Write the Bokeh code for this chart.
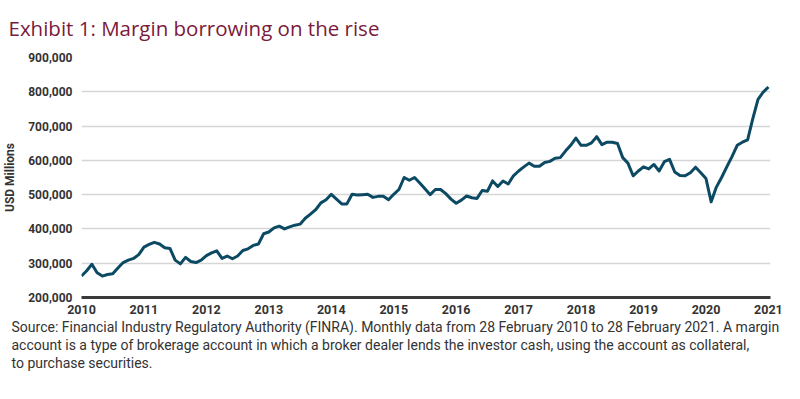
from bokeh.plotting import figure
from bokeh.models import (Range1d, FixedTicker, Title, ColumnDataSource,
                          NumeralTickFormatter)
from bokeh.embed import file_html
from bokeh.resources import INLINE

# Monthly margin debt, USD millions, Feb 2010 .. Feb 2021
margin_2010 = [262500, 278000, 297000, 272000, 262500, 267000, 269000, 286000, 302000, 309000, 314000, 325000]
margin_2011 = [347000, 355000, 361000, 356000, 345000, 343000, 309000, 298000, 317000, 305000, 302000, 309000]
margin_2012 = [322000, 330000, 336000, 314000, 321000, 313000, 321000, 337000, 342000, 352000, 356000, 386000]
margin_2013 = [391000, 403000, 408000, 400000, 406000, 411000, 414000, 431000, 443000, 456000, 476000, 485000]
margin_2014 = [501000, 487000, 473000, 473000, 501000, 499000, 500000, 501000, 492000, 495000, 495000, 485000]
margin_2015 = [501000, 515000, 550000, 542000, 550000, 534000, 517000, 500000, 515000, 515000, 503000, 487000]
margin_2016 = [475000, 484000, 496000, 491000, 489000, 512000, 510000, 540000, 524000, 540000, 531000, 555000]
margin_2017 = [569000, 581000, 592000, 583000, 583000, 594000, 597000, 606000, 608000, 627000, 644000, 665000]
margin_2018 = [644000, 644000, 651000, 669000, 646000, 653000, 653000, 649000, 608000, 592000, 555000, 569000]
margin_2019 = [581000, 575000, 588000, 569000, 596000, 603000, 566000, 556000, 555000, 564000, 580000, 564000]
margin_2020 = [547000, 479000, 522000, 550000, 581000, 611000, 644000, 653000, 660000, 722000, 778000, 799000, 814000]

year_labels = ["2010", "2011", "2012", "2013", "2014", "2015",
               "2016", "2017", "2018", "2019", "2020", "2021"]
y_ticks = [200000, 300000, 400000, 500000, 600000, 700000, 800000, 900000]

title_text = "Exhibit 1: Margin borrowing on the rise"
note_lines = [
    "Source: Financial Industry Regulatory Authority (FINRA). Monthly data from 28 February 2010 to 28 February 2021. A margin",
    "account is a type of brokerage account in which a broker dealer lends the investor cash, using the account as collateral,",
    "to purchase securities.",
]

values = (margin_2010 + margin_2011 + margin_2012 + margin_2013 + margin_2014 +
          margin_2015 + margin_2016 + margin_2017 + margin_2018 + margin_2019 + margin_2020)
months = list(range(len(values)))
source = ColumnDataSource(dict(m=months, v=values))

W, H = 784, 383
p = figure(width=W, height=H, output_backend="svg", toolbar_location=None,
           x_range=Range1d(0, 132.4), y_range=Range1d(200000, 900000),
           min_border_left=75, min_border_right=14, min_border_top=49,
           min_border_bottom=86, background_fill_color="white",
           border_fill_color="white", outline_line_color=None)

p.line("m", "v", source=source, line_color="#0c4a64", line_width=3,
       line_join="round")

TICK_FONT = "Roboto"
p.xaxis.ticker = FixedTicker(ticks=[12 * i for i in range(len(year_labels))])
p.xaxis.major_label_overrides = {12 * i: lab for i, lab in enumerate(year_labels)}
p.xaxis.axis_line_color = "#3a3a3a"
p.xaxis.axis_line_width = 3
p.xaxis.major_tick_line_color = None
p.xaxis.minor_tick_line_color = None
p.xaxis.major_tick_out = 0
p.xaxis.major_tick_in = 0
p.xaxis.minor_tick_out = 0
p.xaxis.major_label_text_font = TICK_FONT
p.xaxis.major_label_text_font_style = "bold"
p.xaxis.major_label_text_font_size = "12.5px"
p.xaxis.major_label_text_color = "#333333"
p.xaxis.major_label_standoff = 7

p.yaxis.ticker = FixedTicker(ticks=y_ticks)
p.yaxis.formatter = NumeralTickFormatter(format="0,0")
p.yaxis.axis_line_color = None
p.yaxis.major_tick_line_color = None
p.yaxis.minor_tick_line_color = None
p.yaxis.major_tick_out = 0
p.yaxis.major_tick_in = 0
p.yaxis.minor_tick_out = 0
p.yaxis.major_label_text_font = TICK_FONT
p.yaxis.major_label_text_font_style = "bold"
p.yaxis.major_label_text_font_size = "12px"
p.yaxis.major_label_text_color = "#333333"
p.yaxis.major_label_standoff = 9
p.yaxis.axis_label = "USD Millions"
p.yaxis.axis_label_text_font = TICK_FONT
p.yaxis.axis_label_text_font_style = "bold"
p.yaxis.axis_label_text_font_size = "12px"
p.yaxis.axis_label_text_color = "#333333"
p.yaxis.axis_label_standoff = 8

p.xgrid.grid_line_color = None
p.ygrid.grid_line_color = "#d6d6d6"
p.ygrid.grid_line_width = 1.5

# title
p.title.text = title_text
p.title.align = "left"
p.title.vertical_align = "top"
p.title.offset = -73
p.title.standoff = 27
p.title.text_line_height = 1.0
p.title.text_font = "Open Sans"
p.title.text_font_size = "20.5px"
p.title.text_font_style = "normal"
p.title.text_color = "#7a1a3c"

# footnote, one title per line
for i, line in enumerate(note_lines):
    p.add_layout(Title(text=line, align="left", offset=-70,
                       standoff=0, text_line_height=1.0,
                       text_font="Roboto", text_font_size="14px",
                       text_font_style="normal", text_color="#333333"),
                 "below")

open("out.html", "w").write(file_html(p, INLINE))
